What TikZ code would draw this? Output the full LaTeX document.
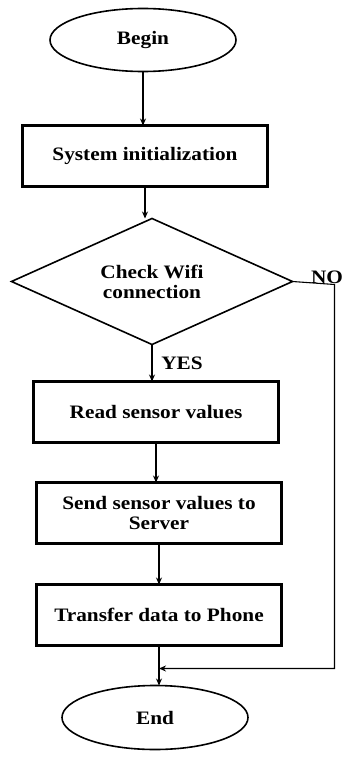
\documentclass[tikz,border=0pt]{standalone}
\usepackage{fontspec}
\setmainfont[FakeStretch=1.12]{Liberation Serif}
\usetikzlibrary{positioning, shapes.geometric, arrows.meta}

\begin{document}
\begin{tikzpicture}[
          x=1pt, y=1pt,
          every node/.style={font=\fontsize{19}{20}\selectfont\bfseries, outer sep=0pt},
          terminal/.style={draw, ellipse, line width=1.6pt, minimum width=186pt, minimum height=63pt, inner sep=0pt},
          process/.style={draw, line width=2.4pt, minimum height=61pt, minimum width=245pt, align=center, inner sep=0pt},
          decision/.style={draw, diamond, line width=1.6pt, minimum width=281pt, minimum height=126pt, aspect=2.2, align=center, inner sep=0pt},
          arrow/.style={-{Stealth[length=7pt,width=6pt]}, line width=1.1pt}
      ]
      \useasboundingbox (0,0) rectangle (344,-757);

      % Nodes
      \node[terminal] (begin) at (143,-40) {Begin};
      \node[process, below=54pt of begin, xshift=2pt] (init) {System initialization};
      \node[decision, below=32pt of init, xshift=7pt] (check) {Check Wifi\\connection};
      \node[process, below=37pt of check, xshift=4pt] (read) {Read sensor values};
      \node[process, below=40pt of read, xshift=3pt] (send) {Send sensor values to\\Server};
      \node[process, below=41pt of send] (transfer) {Transfer data to Phone};
      \node[terminal, below=40pt of transfer, xshift=-4pt, minimum height=64pt] (end) {End};
      \coordinate[below=23pt of transfer] (merge);
      \node[anchor=east, inner sep=0pt] (no) at (343,-277) {NO};

      % Arrows
      \draw[arrow] (begin.south) -- (begin.south |- init.north);
      \draw[arrow] (init.south) -- (init.south |- check.north);
      \draw[arrow] (check.south) -- node[right=6pt] (yes) {YES} (check.south |- read.north);
      \draw[arrow] (read.south) -- (read.south |- send.north);
      \draw[arrow] (send.south) -- (transfer.north);
      \draw[arrow] (transfer.south) -- (transfer.south |- end.north);
      \draw[arrow] (check.east) -- ++(42,-3) |- (merge);

      \end{tikzpicture}
\end{document}
